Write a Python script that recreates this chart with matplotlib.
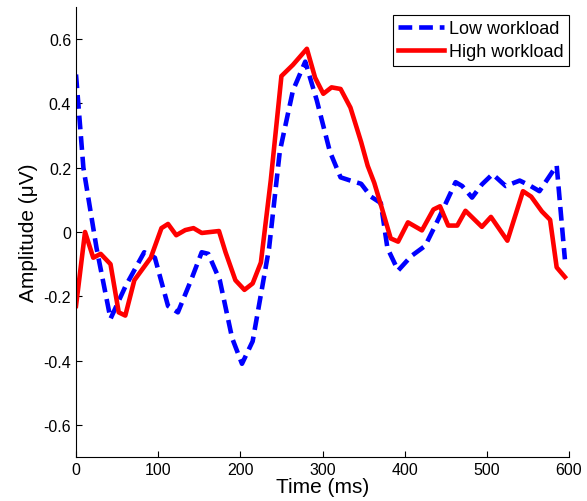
import matplotlib
matplotlib.use("Agg")
import matplotlib.pyplot as plt

t_low = [0, 9, 25, 42, 60, 83, 96, 112, 124, 140, 153, 161, 175, 190, 202, 215, 235, 248, 264, 279,
         293, 309, 322, 334, 347, 359, 371, 379, 392, 408, 425, 441, 462, 470, 482, 494, 507, 523,
         540, 552, 564, 585, 595]
v_low = [0.49, 0.20, -0.05, -0.27, -0.17, -0.063, -0.08, -0.23, -0.25, -0.15, -0.063, -0.068, -0.15,
         -0.33, -0.41, -0.34, -0.05, 0.25, 0.44, 0.53, 0.41, 0.25, 0.17, 0.16, 0.15, 0.11, 0.09, -0.05,
         -0.12, -0.075, -0.043, 0.04, 0.155, 0.143, 0.107, 0.148, 0.18, 0.143, 0.16, 0.145, 0.127,
         0.207, -0.085]

t_high = [0, 11, 21, 30, 42, 52, 60, 71, 91, 104, 112, 122, 133, 143, 153, 174, 182, 194, 205, 215,
          225, 237, 250, 264, 281, 291, 301, 311, 322, 334, 347, 355, 363, 371, 383, 392, 404, 421,
          435, 443, 453, 464, 474, 494, 505, 525, 544, 554, 567, 577, 585, 595]
v_high = [-0.23, 0.0, -0.08, -0.068, -0.1, -0.25, -0.26, -0.15, -0.08, 0.012, 0.025, -0.01, 0.006,
          0.012, -0.003, 0.003, -0.063, -0.15, -0.18, -0.16, -0.095, 0.16, 0.485, 0.52, 0.57, 0.48,
          0.43, 0.45, 0.445, 0.387, 0.28, 0.206, 0.153, 0.085, -0.02, -0.03, 0.03, 0.005, 0.07, 0.08,
          0.02, 0.02, 0.066, 0.016, 0.047, -0.027, 0.127, 0.11, 0.064, 0.038, -0.11, -0.14]

x_ticks = [0, 100, 200, 300, 400, 500, 600]
y_ticks = [-0.6, -0.4, -0.2, 0, 0.2, 0.4, 0.6]
y_tick_labels = ["-0.6", "-0.4", "-0.2", "0", "0.2", "0.4", "0.6"]

plt.rcParams['font.family'] = ['Liberation Sans', 'DejaVu Sans']

fig = plt.figure(figsize=(5.87, 5.02), dpi=100)
ax = fig.add_axes([76/587, 44/502, (569-76)/587, (458-8)/502])

ax.plot(t_low, v_low, color='#0000ff', lw=3.3, linestyle=(0, (3, 1.5)), label='Low workload')
ax.plot(t_high, v_high, color='#ff0000', lw=3.3, label='High workload')

ax.set_xlim(0, 600)
ax.set_ylim(-0.7, 0.7)
ax.set_xticks(x_ticks)
ax.set_yticks(y_ticks)
ax.set_yticklabels(y_tick_labels)
ax.tick_params(direction='in', labelsize=11.5, length=4, width=0.8)
ax.spines['top'].set_visible(False)
ax.spines['right'].set_visible(False)
ax.set_xlabel('Time (ms)', fontsize=15, labelpad=0)
ax.set_ylabel('Amplitude (\u03bcV)', fontsize=15, labelpad=4)

leg = ax.legend(loc='upper right', bbox_to_anchor=(1.0, 1 - 7.5/450), fontsize=13,
                fancybox=False, framealpha=1, edgecolor='black', handlelength=2.5,
                borderpad=0.3, labelspacing=0.35, handletextpad=0.3, borderaxespad=0)
leg.get_frame().set_linewidth(0.8)

fig.savefig('out.png', dpi=100)
